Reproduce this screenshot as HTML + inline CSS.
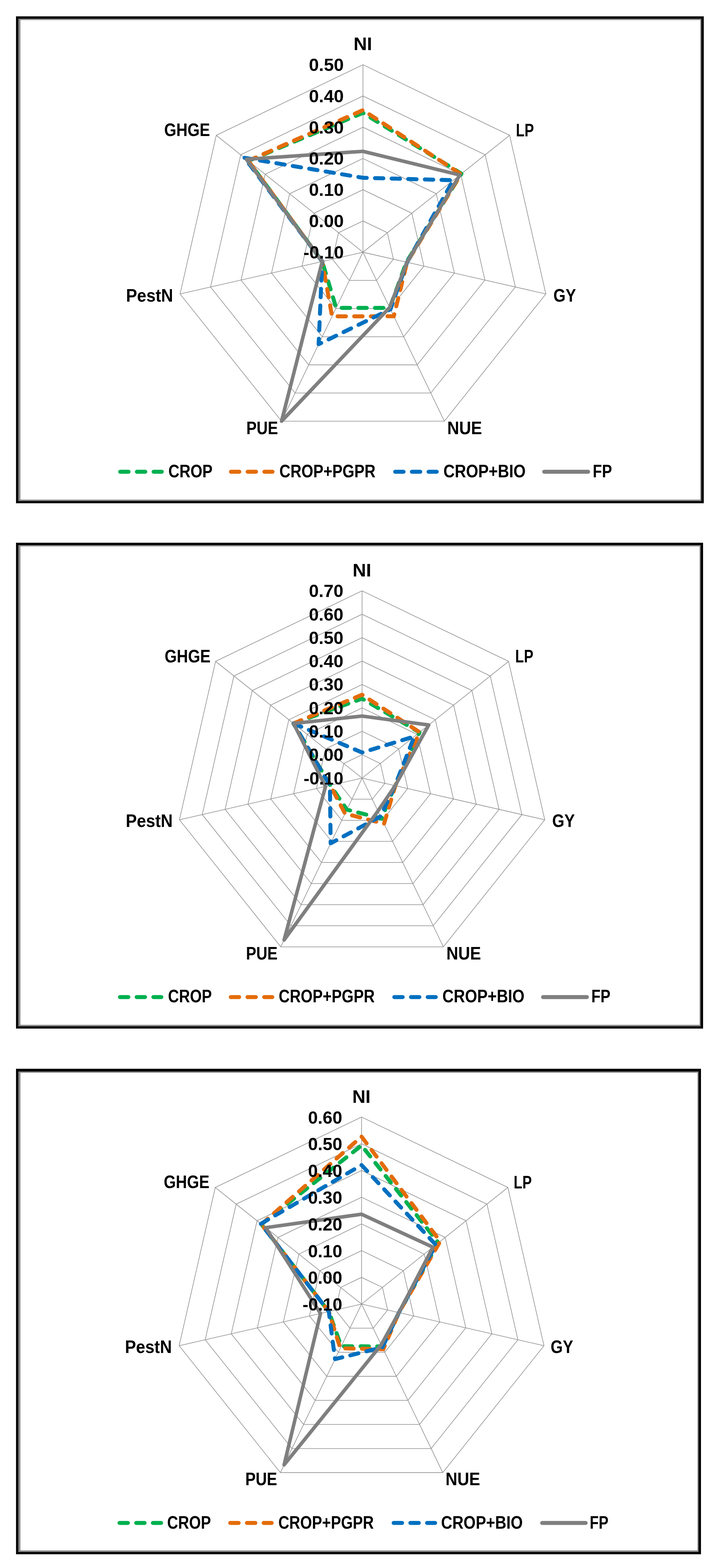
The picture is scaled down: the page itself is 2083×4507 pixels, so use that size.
<!DOCTYPE html>
<html lang="en">
<head>
<meta charset="utf-8">
<title>Radar charts</title>
<style>
html,body{margin:0;padding:0;background:#fff;}
body{width:2083px;height:4507px;overflow:hidden;font-family:"Liberation Sans",sans-serif;}
svg{display:block;}
</style>
</head>
<body>
<svg width="2083" height="4507" viewBox="0 0 2083 4507">
<rect x="0" y="0" width="2083" height="4507" fill="#fff"/>
<path fill-rule="evenodd" fill="#868686" d="M53.35 54.35H2016.00V1441.20H53.35Z M58.60 57.60H2012.00V1435.90H58.60Z"/>
<g fill="none" stroke="#939393" stroke-width="1.8"><polygon points="1042.80,635.17 1113.03,668.99 1130.38,744.99 1081.78,805.94 1003.82,805.94 955.22,744.99 972.57,668.99"/><polygon points="1042.80,545.33 1183.27,612.98 1217.96,764.98 1120.75,886.87 964.85,886.87 867.64,764.98 902.33,612.98"/><polygon points="1042.80,455.50 1253.50,556.97 1305.54,784.97 1159.73,967.81 925.87,967.81 780.06,784.97 832.10,556.97"/><polygon points="1042.80,365.67 1323.74,500.96 1393.12,804.96 1198.71,1048.75 886.89,1048.75 692.48,804.96 761.86,500.96"/><polygon points="1042.80,275.83 1393.97,444.95 1480.71,824.95 1237.69,1129.69 847.91,1129.69 604.89,824.95 691.63,444.95"/><polygon points="1042.80,186.00 1464.21,388.94 1568.29,844.94 1276.66,1210.62 808.94,1210.62 517.31,844.94 621.39,388.94"/><line x1="1042.80" y1="725.00" x2="1042.80" y2="186.00"/><line x1="1042.80" y1="725.00" x2="1464.21" y2="388.94"/><line x1="1042.80" y1="725.00" x2="1568.29" y2="844.94"/><line x1="1042.80" y1="725.00" x2="1276.66" y2="1210.62"/><line x1="1042.80" y1="725.00" x2="808.94" y2="1210.62"/><line x1="1042.80" y1="725.00" x2="517.31" y2="844.94"/><line x1="1042.80" y1="725.00" x2="621.39" y2="388.94"/></g>
<g fill="none" stroke-width="11.5" stroke-linecap="round" stroke-linejoin="round"><path d="M713.65 462.51 L1042.80 324.50 L1325.82 499.30 L1167.59 753.48 L1119.81 884.92 L965.79 884.92 L925.81 751.70 Z" stroke="#00b050" stroke-dasharray="24.1 23.7" stroke-dashoffset="0"/><path d="M713.26 462.20 L1042.80 316.60 L1324.26 500.54 L1169.54 753.93 L1131.44 909.07 L954.07 909.25 L925.81 751.70 Z" stroke="#e46c0a" stroke-dasharray="24.1 23.7" stroke-dashoffset="0"/><path d="M702.70 453.78 L1042.80 511.00 L1302.37 518.00 L1169.54 753.93 L1121.77 888.98 L915.46 989.43 L925.81 751.70 Z" stroke="#0070c0" stroke-dasharray="24.1 23.7" stroke-dashoffset="3"/><path d="M707.79 457.83 L1042.80 435.00 L1321.13 503.04 L1169.15 753.84 L1119.42 884.11 L808.94 1210.62 L925.81 751.70 Z" stroke="#7f7f7f" stroke-width="10.2"/></g>
<line x1="345.35" y1="1356" x2="464.85" y2="1356" stroke="#00b050" stroke-width="11.5" stroke-linecap="round" stroke-dasharray="24.1 23.9"/>
<line x1="663.55" y1="1356" x2="783.05" y2="1356" stroke="#e46c0a" stroke-width="11.5" stroke-linecap="round" stroke-dasharray="24.1 23.9"/>
<line x1="1135.35" y1="1356" x2="1254.85" y2="1356" stroke="#0070c0" stroke-width="11.5" stroke-linecap="round" stroke-dasharray="24.1 23.9"/>
<line x1="1563.55" y1="1356" x2="1689.85" y2="1356" stroke="#7f7f7f" stroke-width="11.5" stroke-linecap="round"/>
<g font-family="'Liberation Sans',sans-serif" font-weight="bold" fill="#000"><text transform="translate(1015.69,144.40) scale(1.0434,1.0000)" font-size="51.3">NI</text><text transform="translate(471.71,391.30) scale(0.8723,1.0000)" font-size="51.3">GHGE</text><text transform="translate(1482.37,391.50) scale(0.7897,1.0000)" font-size="51.3">LP</text><text transform="translate(1590.10,866.80) scale(0.8753,1.0000)" font-size="51.3">GY</text><text transform="translate(1285.01,1247.60) scale(0.9226,1.0000)" font-size="51.3">NUE</text><text transform="translate(707.71,1247.60) scale(0.8637,1.0000)" font-size="51.3">PUE</text><text transform="translate(361.97,866.80) scale(0.9313,1.0000)" font-size="51.3">PestN</text><text transform="translate(483.74,1371.50) scale(0.8566,1.0000)" font-size="51.3">CROP</text><text transform="translate(802.85,1371.50) scale(0.8531,1.0000)" font-size="51.3">CROP+PGPR</text><text transform="translate(1274.10,1371.50) scale(0.8771,1.0000)" font-size="51.3">CROP+BIO</text><text transform="translate(1702.98,1371.50) scale(0.8444,1.0000)" font-size="51.3">FP</text><text transform="translate(871.87,742.93) scale(0.9908,0.9600)" font-size="51.3">-0.10</text><text transform="translate(887.44,653.10) scale(1.0044,0.9600)" font-size="51.3">0.00</text><text transform="translate(887.44,563.26) scale(1.0044,0.9600)" font-size="51.3">0.10</text><text transform="translate(887.44,473.43) scale(1.0044,0.9600)" font-size="51.3">0.20</text><text transform="translate(887.44,383.60) scale(1.0044,0.9600)" font-size="51.3">0.30</text><text transform="translate(887.44,293.76) scale(1.0044,0.9600)" font-size="51.3">0.40</text><text transform="translate(887.44,203.93) scale(1.0044,0.9600)" font-size="51.3">0.50</text></g>
<path fill-rule="evenodd" fill="#868686" d="M53.35 1567.35H2014.00V2951.00H53.35Z M58.60 1570.60H2010.00V2945.70H58.60Z"/>
<g fill="none" stroke="#939393" stroke-width="1.8"><polygon points="1040.30,2169.31 1092.91,2194.65 1105.90,2251.57 1069.49,2297.22 1011.11,2297.22 974.70,2251.57 987.69,2194.65"/><polygon points="1040.30,2102.03 1145.51,2152.69 1171.50,2266.55 1098.69,2357.85 981.91,2357.85 909.10,2266.55 935.09,2152.69"/><polygon points="1040.30,2034.74 1198.12,2110.74 1237.10,2281.52 1127.88,2418.47 952.72,2418.47 843.50,2281.52 882.48,2110.74"/><polygon points="1040.30,1967.45 1250.73,2068.79 1302.70,2296.49 1157.08,2479.10 923.52,2479.10 777.90,2296.49 829.87,2068.79"/><polygon points="1040.30,1900.16 1303.34,2026.83 1368.30,2311.46 1186.27,2539.72 894.33,2539.72 712.30,2311.46 777.26,2026.83"/><polygon points="1040.30,1832.88 1355.94,1984.88 1433.90,2326.44 1215.47,2600.34 865.13,2600.34 646.70,2326.44 724.66,1984.88"/><polygon points="1040.30,1765.59 1408.55,1942.93 1499.50,2341.41 1244.66,2660.97 835.94,2660.97 581.10,2341.41 672.05,1942.93"/><polygon points="1040.30,1698.30 1461.16,1900.98 1565.10,2356.38 1273.86,2721.59 806.74,2721.59 515.50,2356.38 619.44,1900.98"/><line x1="1040.30" y1="2236.60" x2="1040.30" y2="1698.30"/><line x1="1040.30" y1="2236.60" x2="1461.16" y2="1900.98"/><line x1="1040.30" y1="2236.60" x2="1565.10" y2="2356.38"/><line x1="1040.30" y1="2236.60" x2="1273.86" y2="2721.59"/><line x1="1040.30" y1="2236.60" x2="806.74" y2="2721.59"/><line x1="1040.30" y1="2236.60" x2="515.50" y2="2356.38"/><line x1="1040.30" y1="2236.60" x2="619.44" y2="1900.98"/></g>
<g fill="none" stroke-width="11.5" stroke-linecap="round" stroke-linejoin="round"><path d="M843.28 2079.48 L1040.30 2008.10 L1205.27 2105.04 L1134.87 2258.18 L1096.27 2352.82 L996.69 2327.15 L949.14 2257.41 Z" stroke="#00b050" stroke-dasharray="24.1 23.7" stroke-dashoffset="0"/><path d="M843.28 2079.48 L1040.30 1997.00 L1205.74 2104.67 L1135.84 2258.41 L1103.43 2367.69 L991.27 2338.41 L948.66 2257.52 Z" stroke="#e46c0a" stroke-dasharray="24.1 23.7" stroke-dashoffset="0"/><path d="M843.28 2079.48 L1040.30 2163.00 L1190.41 2116.89 L1134.87 2258.18 L1093.23 2346.52 L950.05 2424.00 L947.88 2257.69 Z" stroke="#0070c0" stroke-dasharray="24.1 23.7" stroke-dashoffset="0"/><path d="M843.28 2079.48 L1040.30 2058.20 L1231.85 2083.84 L1135.36 2258.30 L1085.86 2331.20 L816.20 2701.95 L935.30 2260.57 Z" stroke="#7f7f7f" stroke-width="10.2"/></g>
<line x1="344.65" y1="2866" x2="463.65" y2="2866" stroke="#00b050" stroke-width="11.5" stroke-linecap="round" stroke-dasharray="24.1 23.9"/>
<line x1="663.05" y1="2866" x2="782.25" y2="2866" stroke="#e46c0a" stroke-width="11.5" stroke-linecap="round" stroke-dasharray="24.1 23.9"/>
<line x1="1132.85" y1="2866" x2="1252.05" y2="2866" stroke="#0070c0" stroke-width="11.5" stroke-linecap="round" stroke-dasharray="24.1 23.9"/>
<line x1="1560.25" y1="2866" x2="1686.25" y2="2866" stroke="#7f7f7f" stroke-width="11.5" stroke-linecap="round"/>
<g font-family="'Liberation Sans',sans-serif" font-weight="bold" fill="#000"><text transform="translate(1012.97,1657.10) scale(1.0479,1.0000)" font-size="51.3">NI</text><text transform="translate(473.01,1903.60) scale(0.8736,1.0000)" font-size="51.3">GHGE</text><text transform="translate(1480.35,1903.60) scale(0.7947,1.0000)" font-size="51.3">LP</text><text transform="translate(1586.40,2377.30) scale(0.8767,1.0000)" font-size="51.3">GY</text><text transform="translate(1282.42,2757.60) scale(0.9188,1.0000)" font-size="51.3">NUE</text><text transform="translate(706.72,2757.60) scale(0.8617,1.0000)" font-size="51.3">PUE</text><text transform="translate(361.18,2377.30) scale(0.9292,1.0000)" font-size="51.3">PestN</text><text transform="translate(482.76,2881.30) scale(0.8497,1.0000)" font-size="51.3">CROP</text><text transform="translate(800.85,2881.30) scale(0.8525,1.0000)" font-size="51.3">CROP+PGPR</text><text transform="translate(1271.10,2881.30) scale(0.8759,1.0000)" font-size="51.3">CROP+BIO</text><text transform="translate(1699.01,2881.30) scale(0.8345,1.0000)" font-size="51.3">FP</text><text transform="translate(872.19,2254.53) scale(0.9784,0.9600)" font-size="51.3">-0.10</text><text transform="translate(887.46,2187.24) scale(0.9930,0.9600)" font-size="51.3">0.00</text><text transform="translate(887.46,2119.95) scale(0.9930,0.9600)" font-size="51.3">0.10</text><text transform="translate(887.46,2052.67) scale(0.9930,0.9600)" font-size="51.3">0.20</text><text transform="translate(887.46,1985.38) scale(0.9930,0.9600)" font-size="51.3">0.30</text><text transform="translate(887.46,1918.09) scale(0.9930,0.9600)" font-size="51.3">0.40</text><text transform="translate(887.46,1850.80) scale(0.9930,0.9600)" font-size="51.3">0.50</text><text transform="translate(887.46,1783.52) scale(0.9930,0.9600)" font-size="51.3">0.60</text><text transform="translate(887.46,1716.23) scale(0.9930,0.9600)" font-size="51.3">0.70</text></g>
<path fill-rule="evenodd" fill="#868686" d="M53.35 3080.35H2008.00V4461.90H53.35Z M58.60 3083.60H2004.00V4456.60H58.60Z"/>
<g fill="none" stroke="#939393" stroke-width="1.8"><polygon points="1038.80,3671.60 1098.84,3700.52 1113.67,3765.49 1072.12,3817.59 1005.48,3817.59 963.93,3765.49 978.76,3700.52"/><polygon points="1038.80,3594.80 1158.89,3652.63 1188.55,3782.58 1105.44,3886.79 972.16,3886.79 889.05,3782.58 918.71,3652.63"/><polygon points="1038.80,3518.00 1218.93,3604.75 1263.42,3799.67 1138.77,3955.98 938.83,3955.98 814.18,3799.67 858.67,3604.75"/><polygon points="1038.80,3441.20 1278.98,3556.86 1338.30,3816.76 1172.09,4025.18 905.51,4025.18 739.30,3816.76 798.62,3556.86"/><polygon points="1038.80,3364.40 1339.02,3508.98 1413.17,3833.85 1205.41,4094.37 872.19,4094.37 664.43,3833.85 738.58,3508.98"/><polygon points="1038.80,3287.60 1399.07,3461.10 1488.05,3850.94 1238.73,4163.57 838.87,4163.57 589.55,3850.94 678.53,3461.10"/><polygon points="1038.80,3210.80 1459.11,3413.21 1562.92,3868.03 1272.06,4232.76 805.54,4232.76 514.68,3868.03 618.49,3413.21"/><line x1="1038.80" y1="3748.40" x2="1038.80" y2="3210.80"/><line x1="1038.80" y1="3748.40" x2="1459.11" y2="3413.21"/><line x1="1038.80" y1="3748.40" x2="1562.92" y2="3868.03"/><line x1="1038.80" y1="3748.40" x2="1272.06" y2="4232.76"/><line x1="1038.80" y1="3748.40" x2="805.54" y2="4232.76"/><line x1="1038.80" y1="3748.40" x2="514.68" y2="3868.03"/><line x1="1038.80" y1="3748.40" x2="618.49" y2="3413.21"/></g>
<g fill="none" stroke-width="11.5" stroke-linecap="round" stroke-linejoin="round"><path d="M751.09 3518.96 L1038.80 3292.40 L1259.67 3572.26 L1146.04 3772.88 L1097.37 3870.03 L980.44 3869.58 L944.72 3769.87 Z" stroke="#00b050" stroke-dasharray="24.1 23.7" stroke-dashoffset="0"/><path d="M751.09 3518.96 L1038.80 3267.10 L1264.75 3568.21 L1146.04 3772.88 L1101.28 3878.14 L977.62 3875.44 L944.72 3769.87 Z" stroke="#e46c0a" stroke-dasharray="24.1 23.7" stroke-dashoffset="0"/><path d="M749.52 3517.71 L1038.80 3348.80 L1252.24 3578.19 L1146.04 3772.88 L1098.68 3872.73 L962.61 3906.61 L944.72 3769.87 Z" stroke="#0070c0" stroke-dasharray="24.1 23.7" stroke-dashoffset="0"/><path d="M763.36 3528.74 L1038.80 3490.10 L1243.80 3584.92 L1146.04 3772.88 L1095.20 3865.53 L816.22 4210.60 L920.83 3775.33 Z" stroke="#7f7f7f" stroke-width="10.2"/></g>
<line x1="343.35" y1="4377.4" x2="462.85" y2="4377.4" stroke="#00b050" stroke-width="11.5" stroke-linecap="round" stroke-dasharray="24.1 23.9"/>
<line x1="661.55" y1="4377.4" x2="780.45" y2="4377.4" stroke="#e46c0a" stroke-width="11.5" stroke-linecap="round" stroke-dasharray="24.1 23.9"/>
<line x1="1131.05" y1="4377.4" x2="1250.05" y2="4377.4" stroke="#0070c0" stroke-width="11.5" stroke-linecap="round" stroke-dasharray="24.1 23.9"/>
<line x1="1557.75" y1="4377.4" x2="1682.55" y2="4377.4" stroke="#7f7f7f" stroke-width="11.5" stroke-linecap="round"/>
<g font-family="'Liberation Sans',sans-serif" font-weight="bold" fill="#000"><text transform="translate(1012.17,3169.50) scale(1.0209,1.0000)" font-size="51.3">NI</text><text transform="translate(470.42,3415.30) scale(0.8689,1.0000)" font-size="51.3">GHGE</text><text transform="translate(1475.85,3415.60) scale(0.7930,1.0000)" font-size="51.3">LP</text><text transform="translate(1582.11,3888.80) scale(0.8739,1.0000)" font-size="51.3">GY</text><text transform="translate(1279.92,4269.30) scale(0.9188,1.0000)" font-size="51.3">NUE</text><text transform="translate(704.69,4269.30) scale(0.8687,1.0000)" font-size="51.3">PUE</text><text transform="translate(358.99,3888.80) scale(0.9270,1.0000)" font-size="51.3">PestN</text><text transform="translate(480.26,4394.30) scale(0.8490,1.0000)" font-size="51.3">CROP</text><text transform="translate(799.66,4394.30) scale(0.8481,1.0000)" font-size="51.3">CROP+PGPR</text><text transform="translate(1267.31,4394.30) scale(0.8714,1.0000)" font-size="51.3">CROP+BIO</text><text transform="translate(1694.25,4394.30) scale(0.8229,1.0000)" font-size="51.3">FP</text><text transform="translate(869.20,3767.23) scale(0.9758,0.9600)" font-size="51.3">-0.10</text><text transform="translate(884.88,3690.43) scale(0.9856,0.9600)" font-size="51.3">0.00</text><text transform="translate(884.88,3613.63) scale(0.9856,0.9600)" font-size="51.3">0.10</text><text transform="translate(884.88,3536.83) scale(0.9856,0.9600)" font-size="51.3">0.20</text><text transform="translate(884.88,3460.03) scale(0.9856,0.9600)" font-size="51.3">0.30</text><text transform="translate(884.88,3383.23) scale(0.9856,0.9600)" font-size="51.3">0.40</text><text transform="translate(884.88,3306.43) scale(0.9856,0.9600)" font-size="51.3">0.50</text><text transform="translate(884.88,3229.63) scale(0.9856,0.9600)" font-size="51.3">0.60</text></g>
<path fill-rule="evenodd" fill="#000" d="M46 47H2022V1446.5H46Z M53.00 54.00H2015.00V1440.20H53.00Z"/>
<path fill-rule="evenodd" fill="#000" d="M46 1560H2020V2956.5H46Z M53.00 1567.00H2013.00V2950.00H53.00Z"/>
<path fill-rule="evenodd" fill="#000" d="M46 3072H2014V4467.5H46Z M53.00 3080.00H2007.00V4460.90H53.00Z"/>
</svg>
</body>
</html>
